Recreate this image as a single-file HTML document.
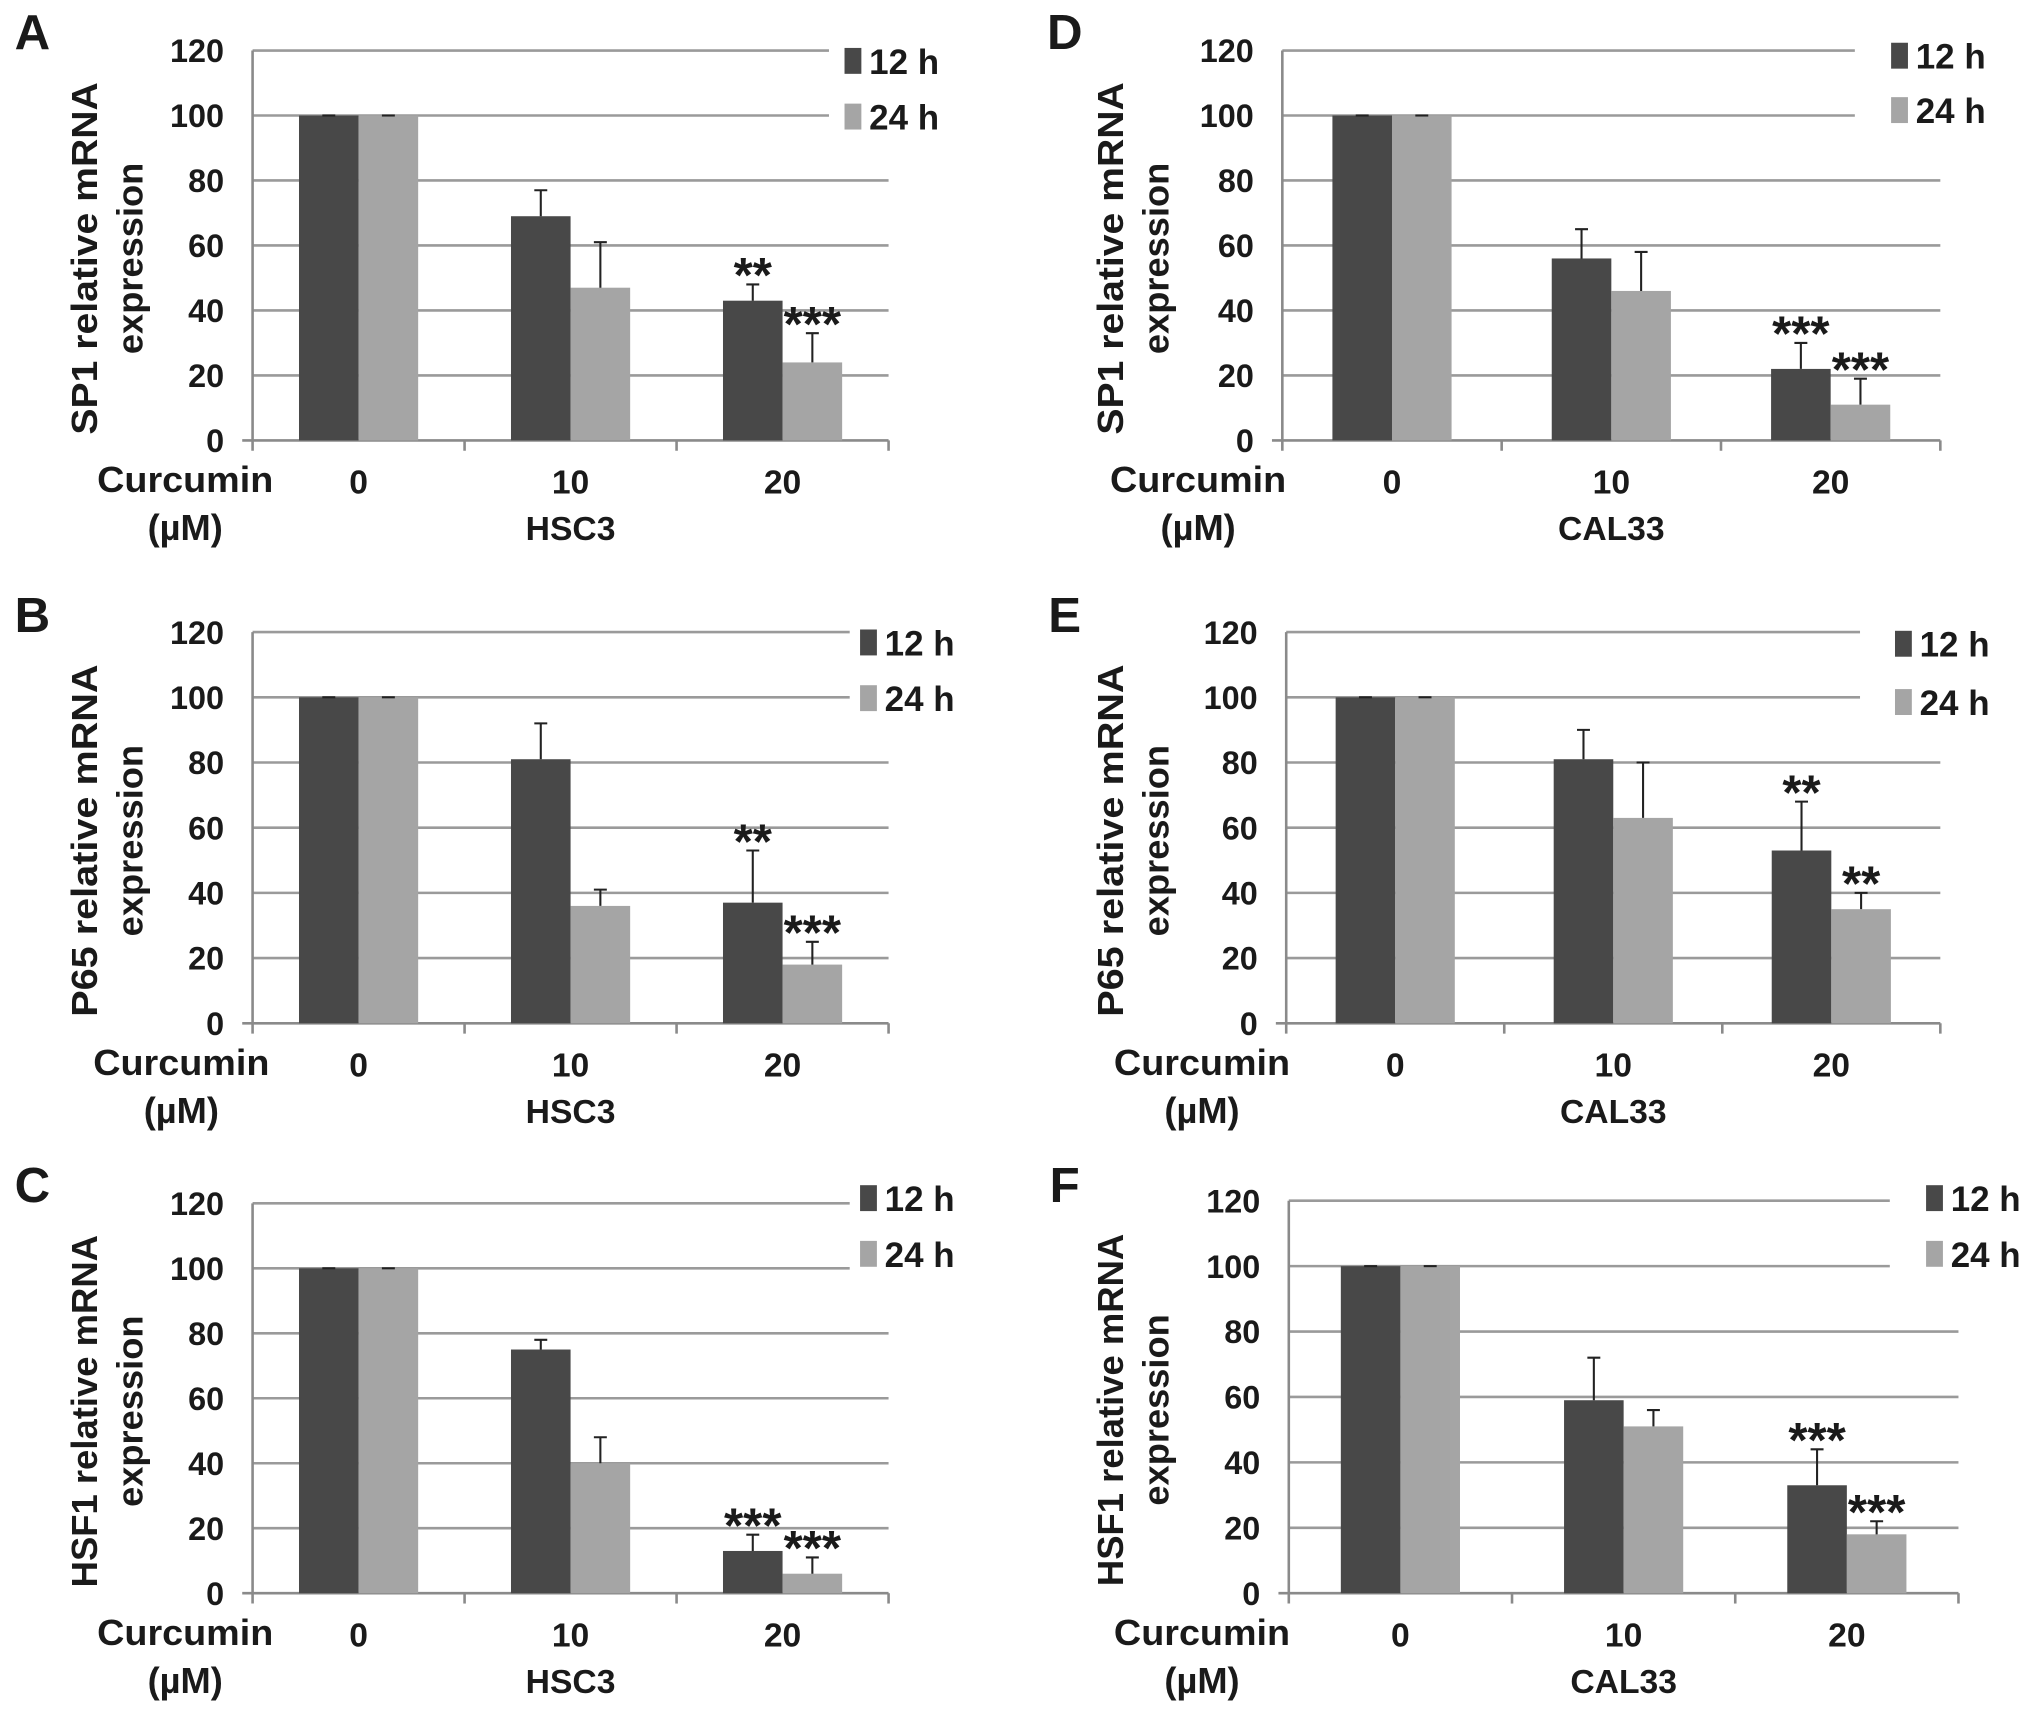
<!DOCTYPE html>
<html><head><meta charset="utf-8"><style>
html,body{margin:0;padding:0;background:#fff;}
svg{display:block;font-family:"Liberation Sans",Arial,sans-serif;font-weight:bold;}
</style></head><body>
<svg id="fig" width="2031" height="1709" viewBox="0 0 1568 1319.4" xmlns="http://www.w3.org/2000/svg"></svg>
<script>
const categories = ["0","10","20"];
const panelLetters = ["A","B","C","D","E","F"];
const panelGenes = ["SP1","P65","HSF1","SP1","P65","HSF1"];
const panelCells = ["HSC3","HSC3","HSC3","CAL33","CAL33","CAL33"];
const yTicks = [0,20,40,60,80,100,120];
const valsA12 = [100,69,43], errA12 = [0,8,5], valsA24 = [100,47,24], errA24 = [0,14,9];
const valsB12 = [100,81,37], errB12 = [0,11,16], valsB24 = [100,36,18], errB24 = [0,5,7];
const valsC12 = [100,75,13], errC12 = [0,3,5], valsC24 = [100,40,6], errC24 = [0,8,5];
const valsD12 = [100,56,22], errD12 = [0,9,8], valsD24 = [100,46,11], errD24 = [0,12,8];
const valsE12 = [100,81,53], errE12 = [0,9,15], valsE24 = [100,63,35], errE24 = [0,17,5];
const valsF12 = [100,59,33], errF12 = [0,13,11], valsF24 = [100,51,18], errF24 = [0,5,4];
const starsA12 = ["","","**"], starsA24 = ["","","***"];
const starsB12 = ["","","**"], starsB24 = ["","","***"];
const starsC12 = ["","","***"], starsC24 = ["","","***"];
const starsD12 = ["","","***"], starsD24 = ["","","***"];
const starsE12 = ["","","**"], starsE24 = ["","","**"];
const starsF12 = ["","","***"], starsF24 = ["","","***"];

const series = [
 [valsA12,errA12,valsA24,errA24,starsA12,starsA24],
 [valsB12,errB12,valsB24,errB24,starsB12,starsB24],
 [valsC12,errC12,valsC24,errC24,starsC12,starsC24],
 [valsD12,errD12,valsD24,errD24,starsD12,starsD24],
 [valsE12,errE12,valsE24,errE24,starsE12,starsE24],
 [valsF12,errF12,valsF24,errF24,starsF12,starsF24]
];
const layouts = [
 {x0:195,x1:686,y0:340,y120:39,legX:652,leg1:47,leg2:90,lx:25,ly:22,tx:65,cx:143,gridCut:640},
 {x0:195,x1:686,y0:790,y120:488,legX:664,leg1:496,leg2:539,lx:25,ly:472,tx:65,cx:140,gridCut:656},
 {x0:195,x1:686,y0:1230,y120:929,legX:664,leg1:925,leg2:968,lx:25,ly:912,tx:65,cx:143,gridCut:656},
 {x0:990,x1:1498,y0:340,y120:39,legX:1460,leg1:43,leg2:85,lx:822,ly:22,tx:857,cx:925,gridCut:1432},
 {x0:993,x1:1498,y0:790,y120:488,legX:1463,leg1:497,leg2:542,lx:822,ly:472,tx:857,cx:928,gridCut:1436},
 {x0:995,x1:1512,y0:1230,y120:927,legX:1487,leg1:925,leg2:968,lx:822,ly:912,tx:857,cx:928,gridCut:1459}
];
const NS="http://www.w3.org/2000/svg";
const svg=document.getElementById('fig');
function mk(tag,attrs,parent){const e=document.createElementNS(NS,tag);for(const k in attrs)e.setAttribute(k,attrs[k]);(parent||svg).appendChild(e);return e;}
function txt(s,attrs,parent){const e=mk('text',attrs,parent);e.textContent=s;return e;}

layouts.forEach((L,p)=>{
  const g=mk('g',{});
  
  
  const yS=v=>L.y0-(v/120)*(L.y0-L.y120);
  const band=(L.x1-L.x0)/categories.length;
  const xC=i=>L.x0+band*(i+0.5);
  const bw=46;
  yTicks.forEach(t=>{
    if(t===0)return;
    const xe=(t>=100)?L.gridCut:L.x1;
    const gl=mk('line',{x1:L.x0,x2:xe,y1:yS(t),y2:yS(t),stroke:'#9a9a9a','stroke-width':2},g);
    
    
    const tl=txt(String(t),{x:L.x0-22,y:yS(t)+9,'text-anchor':'end','font-size':25,fill:'#1a1a1a'},g);
    
    
  });
  const zl=txt('0',{x:L.x0-22,y:yS(0)+9,'text-anchor':'end','font-size':25,fill:'#1a1a1a'},g);
  
  
  const ya=mk('line',{x1:L.x0,x2:L.x0,y1:L.y120,y2:L.y0+8,stroke:'#8a8a8a','stroke-width':2},g);
  
  
  const xa=mk('line',{x1:L.x0-8,x2:L.x1,y1:L.y0,y2:L.y0,stroke:'#8a8a8a','stroke-width':2},g);
  
  
  for(let i=1;i<=categories.length;i++){
    const tk=mk('line',{x1:L.x0+band*i,x2:L.x0+band*i,y1:L.y0,y2:L.y0+8,stroke:'#8a8a8a','stroke-width':2},g);
    
    
  }
  const [v12,e12,v24,e24,s12,s24]=series[p];
  categories.forEach((c,i)=>{
    [[v12,e12,s12,'#484848',-bw,'12h'],[v24,e24,s24,'#a5a5a5',0,'24h']].forEach(([v,e,s,col,off,nm])=>{
      const x=xC(i)+off;
      const r=mk('rect',{x:x,y:yS(v[i]),width:bw,height:yS(0)-yS(v[i]),fill:col},g);
      
      
      const top=yS(v[i]+e[i]);
      const cx=x+bw/2;
      const eb=mk('path',{d:`M${cx},${yS(v[i])}V${top}M${cx-5},${top}H${cx+5}`,stroke:'#222','stroke-width':1.6,fill:'none'},g);
      
      
      if(s[i]){
        const st=txt(s[i],{x:cx,y:top+6,'text-anchor':'middle','font-size':38,fill:'#1a1a1a'},g);
        
        
      }
    });
    const cl=txt(c,{x:xC(i),y:L.y0+41,'text-anchor':'middle','font-size':26,fill:'#1a1a1a'},g);
    
    
  });
  const cell=txt(panelCells[p],{x:xC(1),y:L.y0+77,'text-anchor':'middle','font-size':26,fill:'#1a1a1a'},g);
  
  
  const cu=txt('Curcumin',{x:L.cx,y:L.y0+40,'text-anchor':'middle','font-size':28,fill:'#1a1a1a',textLength:136,lengthAdjust:'spacingAndGlyphs'},g);
  
  
  const um=txt('(µM)',{x:L.cx,y:L.y0+77,'text-anchor':'middle','font-size':28,fill:'#1a1a1a'},g);
  
  
  const my=(L.y0+L.y120)/2+10;
  const t1=txt(panelGenes[p]+' relative mRNA',{x:0,y:0,'text-anchor':'middle','font-size':28,fill:'#1a1a1a',textLength:272,lengthAdjust:'spacingAndGlyphs',transform:`translate(${L.tx+10},${my}) rotate(-90)`},g);
  
  
  const t2=txt('expression',{x:0,y:0,'text-anchor':'middle','font-size':28,fill:'#1a1a1a',transform:`translate(${L.tx+45},${my}) rotate(-90)`},g);
  
  
  const lt=txt(panelLetters[p],{x:L.lx,y:L.ly+16,'text-anchor':'middle','font-size':38,fill:'#1a1a1a'},g);
  
  
  [[L.leg1,'#484848','12 h'],[L.leg2,'#a5a5a5','24 h']].forEach(([ly,col,lab])=>{
    const sq=mk('rect',{x:L.legX,y:ly-10,width:13,height:20,fill:col},g);
    
    
    const lg=txt(lab,{x:L.legX+19,y:ly+10,'font-size':27,fill:'#1a1a1a'},g);
    
    
  });
});
</script>
</body></html>
